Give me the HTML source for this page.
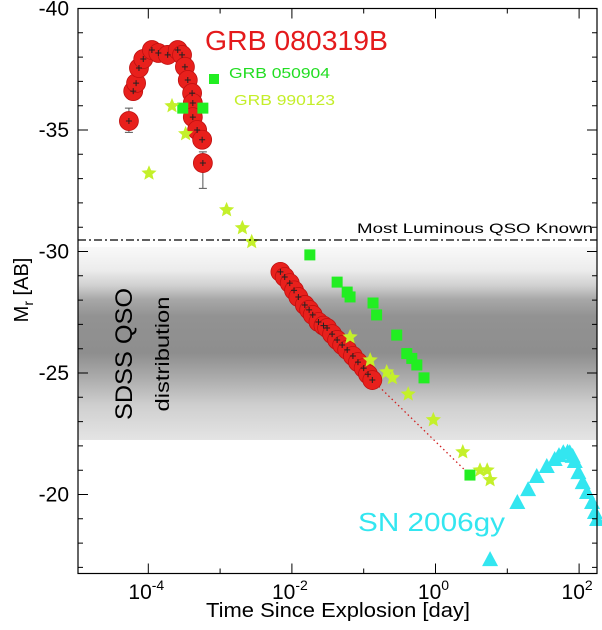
<!DOCTYPE html>
<html><head><meta charset="utf-8"><style>
html,body{margin:0;padding:0;background:#fff;}
svg{display:block;font-family:"Liberation Sans",Arial,sans-serif;}
</style></head><body>
<svg id="chart" width="602" height="630" viewBox="0 0 602 630" xmlns="http://www.w3.org/2000/svg">
<defs>
<linearGradient id="qso" x1="0" y1="0" x2="0" y2="1">
<stop offset="0" stop-color="#f9f9f9"/>
<stop offset="0.12" stop-color="#ececec"/>
<stop offset="0.2" stop-color="#d0d0d0"/>
<stop offset="0.27" stop-color="#a8a8a8"/>
<stop offset="0.36" stop-color="#929292"/>
<stop offset="0.55" stop-color="#8e8e8e"/>
<stop offset="0.68" stop-color="#acacac"/>
<stop offset="0.82" stop-color="#cfcfcf"/>
<stop offset="1" stop-color="#e4e4e4"/>
</linearGradient>
</defs>
<rect x="78" y="247" width="519" height="193" fill="url(#qso)"/>
<g id="marks"></g>
<g id="axes"></g>
<line x1="78" y1="240" x2="597" y2="240" stroke="#000" stroke-width="1.3" stroke-dasharray="8,3,2,3"/>
<text x="593" y="233" font-size="14" text-anchor="end" textLength="236" lengthAdjust="spacingAndGlyphs">Most Luminous QSO Known</text>
<text transform="translate(132,354) rotate(-90)" font-size="24" text-anchor="middle" textLength="132" lengthAdjust="spacingAndGlyphs">SDSS QSO</text>
<text transform="translate(169,354) rotate(-90)" font-size="19" text-anchor="middle" textLength="115" lengthAdjust="spacingAndGlyphs">distribution</text>
<text x="205" y="50" font-size="28" fill="#e41a1c" textLength="183" lengthAdjust="spacingAndGlyphs">GRB 080319B</text>
<rect x="209" y="74" width="10" height="10" fill="#22ee22"/>
<text x="229" y="78" font-size="15" fill="#22dd22" textLength="101" lengthAdjust="spacingAndGlyphs">GRB 050904</text>
<text x="234" y="105" font-size="15" fill="#c4ee2a" textLength="101" lengthAdjust="spacingAndGlyphs">GRB 990123</text>
<text x="358" y="531" font-size="26" fill="#33e6f0" textLength="147" lengthAdjust="spacingAndGlyphs">SN 2006gy</text>
<text transform="translate(28,290) rotate(-90)" font-size="20" text-anchor="middle">M<tspan font-size="14" dy="5">r</tspan><tspan dy="-5"> [AB]</tspan></text>
<text x="338" y="617" font-size="20" text-anchor="middle" textLength="264" lengthAdjust="spacingAndGlyphs">Time Since Explosion [day]</text>
</svg>
<script>
// log10(time/day) and absolute magnitude values
const grbLogT = [-4.27,-4.21,-4.17,-4.13,-4.07,-3.95,-3.86,-3.73,-3.59,-3.53,-3.49,-3.45,-3.39,-3.38,-3.38,-3.32,-3.25,-3.24,
  -2.16,-2.10,-2.03,-1.97,-1.91,-1.82,-1.76,-1.71,-1.63,-1.56,-1.51,-1.44,-1.37,-1.30,-1.23,-1.15,-1.08,-1.00,-0.94,-0.88];
const grbMag = [-35.37,-36.6,-36.93,-37.55,-37.92,-38.29,-38.17,-38.09,-38.29,-38.09,-37.6,-37.06,-36.52,-36.11,-35.53,-35.0,-34.6,-33.64,
  -29.16,-28.95,-28.7,-28.4,-28.13,-27.8,-27.6,-27.39,-27.1,-26.95,-26.85,-26.6,-26.36,-26.15,-25.95,-25.7,-25.45,-25.2,-24.95,-24.71];
const grbErrLo = [-34.9,-32.6];
const grbErrHi = [-35.9,-34.1];
const grbErrIdx = [0,17];
const g050904LogT = [-3.52,-3.24,-1.75,-1.37,-1.23,-1.19,-0.87,-0.82,-0.54,-0.40,-0.33,-0.26,-0.16,0.48];
const g050904Mag = [-35.9,-35.9,-29.86,-28.74,-28.33,-28.13,-27.88,-27.39,-26.56,-25.8,-25.6,-25.33,-24.8,-20.8];
const g990123LogT = [-3.99,-3.67,-3.48,-2.91,-2.69,-2.56,-1.19,-0.91,-0.68,-0.60,-0.38,-0.03,0.38,0.62,0.72,0.76];
const g990123Mag = [-33.22,-35.99,-34.84,-31.71,-30.97,-30.4,-26.48,-25.53,-25.04,-24.8,-24.13,-23.07,-21.75,-21.0,-21.0,-20.6];
const snLogT = [0.76,1.14,1.29,1.41,1.55,1.66,1.72,1.78,1.84,1.87,1.91,1.94,1.99,2.05,2.11,2.18,2.22,2.25];
const snMag = [-17.3,-19.65,-20.18,-20.72,-21.13,-21.42,-21.58,-21.7,-21.72,-21.7,-21.55,-21.34,-20.88,-20.47,-20.06,-19.65,-19.24,-18.95];
const yTickLabels = ["-40","-35","-30","-25","-20"];
const yTickValues = [-40,-35,-30,-25,-20];
const xTickLabels = ["-4","-2","0","2"];
const xTickValues = [-4,-2,0,2];

const X0=78, X1=597, Y0=8.5, Y1=573.5;
function xs(l){ return 435.5 + 71.8*l; }
function ys(m){ return 8.5 + (m+40)*24.3; }
const NS="http://www.w3.org/2000/svg";
const marks=document.getElementById('marks');
const axes=document.getElementById('axes');
function mk(tag,attrs,parent){ const e=document.createElementNS(NS,tag); for(const k in attrs) e.setAttribute(k,attrs[k]); (parent||marks).appendChild(e); return e; }

let dl=mk('line',{x1:xs(grbLogT[grbLogT.length-1]),y1:ys(grbMag[grbMag.length-1]),x2:xs(g050904LogT[g050904LogT.length-1]),y2:ys(g050904Mag[g050904Mag.length-1]),stroke:'#d02020','stroke-width':1.3,'stroke-dasharray':'1.5,3'});



grbErrIdx.forEach((idx,j)=>{
  const x=xs(grbLogT[idx]);
  const e=mk('path',{d:`M${x},${ys(grbErrLo[j])}V${ys(grbErrHi[j])}M${x-4},${ys(grbErrLo[j])}h8M${x-4},${ys(grbErrHi[j])}h8`,stroke:'#555','stroke-width':1,fill:'none'});
  
  
});
grbLogT.forEach((l,i)=>{
  const c=mk('circle',{cx:xs(l),cy:ys(grbMag[i]),r:9.5,fill:'#e8201c',stroke:'#c01010','stroke-width':0.8});
  
  
});
grbLogT.forEach((l,i)=>{
  const x=xs(l),y=ys(grbMag[i]);
  const p=mk('path',{d:`M${x-3},${y}h6M${x},${y-3}v6`,stroke:'#222','stroke-width':1});
  
  
});
g050904LogT.forEach((l,i)=>{
  const r=mk('rect',{x:xs(l)-5.5,y:ys(g050904Mag[i])-5.5,width:11,height:11,fill:'#22ee22'});
  
  
});
function starPath(cx,cy,R){ let d=''; for(let k=0;k<10;k++){ const a=-Math.PI/2+k*Math.PI/5; const rr=k%2?R*0.45:R; d+=(k?'L':'M')+(cx+rr*Math.cos(a)).toFixed(1)+','+(cy+rr*Math.sin(a)).toFixed(1);} return d+'Z'; }
g990123LogT.forEach((l,i)=>{
  const s=mk('path',{d:starPath(xs(l),ys(g990123Mag[i]),8),fill:'#c4f02a'});
  
  
});
snLogT.forEach((l,i)=>{
  const x=xs(l),y=ys(snMag[i]);
  const t=mk('path',{d:`M${x},${y-9}L${x+8},${y+6}L${x-8},${y+6}Z`,fill:'#33e6f0'});
  
  
});

const fr=mk('rect',{x:X0,y:Y0,width:X1-X0,height:Y1-Y0,fill:'none',stroke:'#000','stroke-width':1.2},axes);


for(let m=-40;m<=-17;m++){
  const y=ys(m), len=(m%5===0)?10:5;
  const t=mk('path',{d:`M${X0},${y}h${len}M${X1},${y}h${-len}`,stroke:'#000','stroke-width':1},axes);
  
  
}
yTickValues.forEach((v,i)=>{
  const t=mk('text',{x:69,y:ys(v)+7,'font-size':21,'text-anchor':'end'},axes);
  t.textContent=yTickLabels[i];
  
  
});
for(let l=-5;l<=2;l++){
  const x=xs(l); if(x<X0||x>X1) continue;
  const len=(l%2===0)?10:5;
  const t=mk('path',{d:`M${x},${Y1}v${-len}M${x},${Y0}v${len}`,stroke:'#000','stroke-width':1},axes);
  
  
}
xTickValues.forEach((v,i)=>{
  const t=mk('text',{x:xs(v)-2,y:599,'font-size':21,'text-anchor':'middle'},axes);
  
  
  t.appendChild(document.createTextNode('10'));
  const sp=document.createElementNS(NS,'tspan');
  sp.setAttribute('font-size','14'); sp.setAttribute('dy','-9');
  sp.textContent=xTickLabels[i];
  t.appendChild(sp);
});
</script>
</body></html>
